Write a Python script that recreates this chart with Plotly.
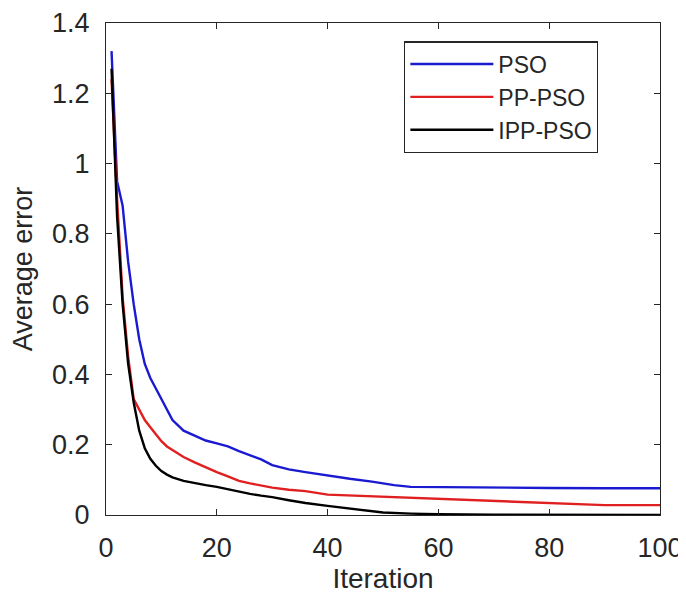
import plotly.graph_objects as go

pso_x = [1, 2, 3, 4, 5, 6, 7, 8, 9, 10, 11, 12, 14, 16, 18, 20, 22, 24, 26, 28, 30, 33, 36, 40, 44, 48, 52, 55, 60, 70, 80, 90, 100]
pso_y = [1.32, 0.95, 0.88, 0.72, 0.60, 0.50, 0.43, 0.39, 0.36, 0.33, 0.30, 0.27, 0.24, 0.225, 0.212, 0.204, 0.195, 0.182, 0.17, 0.158, 0.142, 0.13, 0.122, 0.112, 0.103, 0.095, 0.085, 0.08, 0.079, 0.078, 0.077, 0.076, 0.076]

pp_x = [1, 2, 3, 4, 5, 6, 7, 8, 9, 10, 11, 12, 14, 16, 18, 20, 22, 24, 26, 28, 30, 33, 36, 40, 45, 50, 55, 60, 65, 70, 75, 80, 85, 90, 95, 100]
pp_y = [1.24, 0.90, 0.62, 0.45, 0.33, 0.30, 0.27, 0.25, 0.23, 0.21, 0.195, 0.185, 0.165, 0.15, 0.135, 0.122, 0.11, 0.097, 0.09, 0.083, 0.078, 0.072, 0.068, 0.058, 0.055, 0.052, 0.048, 0.046, 0.043, 0.041, 0.038, 0.035, 0.031, 0.028, 0.028, 0.028]

ipp_x = [1, 2, 3, 4, 5, 6, 7, 8, 9, 10, 11, 12, 14, 16, 18, 20, 22, 24, 26, 28, 30, 33, 36, 40, 42, 45, 48, 50, 55, 60, 70, 80, 90, 100]
ipp_y = [1.27, 0.85, 0.60, 0.43, 0.32, 0.24, 0.19, 0.16, 0.14, 0.125, 0.115, 0.107, 0.097, 0.09, 0.085, 0.08, 0.073, 0.066, 0.06, 0.055, 0.051, 0.042, 0.034, 0.026, 0.022, 0.015, 0.01, 0.007, 0.004, 0.002, 0.001, 0.0, 0.0, 0.0]

series_names = ["PSO", "PP-PSO", "IPP-PSO"]
x_ticks = [0, 20, 40, 60, 80, 100]
y_ticks = [0, 0.2, 0.4, 0.6, 0.8, 1, 1.2, 1.4]
y_tick_labels = ["0", "0.2", "0.4", "0.6", "0.8", "1", "1.2", "1.4"]

fig = go.Figure()
fig.add_trace(go.Scatter(x=pso_x, y=pso_y, mode="lines", name=series_names[0],
                         line=dict(color="#1a1ad0", width=2.4)))
fig.add_trace(go.Scatter(x=pp_x, y=pp_y, mode="lines", name=series_names[1],
                         line=dict(color="#e02020", width=2.4)))
fig.add_trace(go.Scatter(x=ipp_x, y=ipp_y, mode="lines", name=series_names[2],
                         line=dict(color="#000000", width=2.4)))

axis_common = dict(showline=True, linecolor="#262626", linewidth=1.3, mirror="ticks",
                   ticks="inside", ticklen=6, tickcolor="#262626", showgrid=False,
                   zeroline=False, tickfont=dict(size=27, color="#262626"))

fig.update_layout(
    width=686, height=600,
    margin=dict(l=98, r=34, t=15, b=93),
    paper_bgcolor="white", plot_bgcolor="white",
    font=dict(family="Liberation Sans, Arial, sans-serif", color="#262626"),
    xaxis=dict(range=[0, 100], tickvals=x_ticks, automargin=True,
               title=dict(text="Iteration", font=dict(size=28), standoff=4),
               ticklabelstandoff=8, **axis_common),
    yaxis=dict(range=[0, 1.4], tickvals=y_ticks, ticktext=y_tick_labels, automargin=False,
               title=dict(text="Average error", font=dict(size=27)),
               ticklabelstandoff=10, **axis_common),
    legend=dict(x=0.538, y=0.963, xanchor="left", yanchor="top",
                bordercolor="#262626", borderwidth=1.3, bgcolor="white",
                font=dict(size=23, color="#262626"), tracegroupgap=0,
                itemwidth=83),
    showlegend=True,
)

fig.write_html("out.html")
